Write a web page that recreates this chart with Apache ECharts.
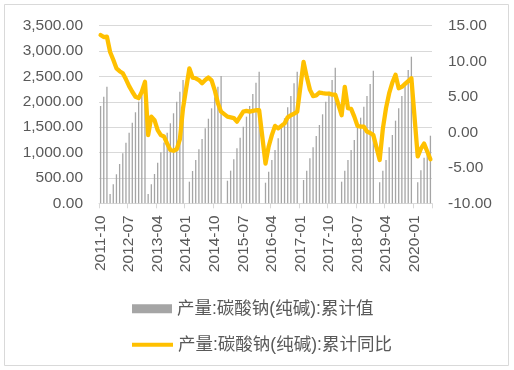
<!DOCTYPE html>
<html>
<head>
<meta charset="utf-8">
<script src="https://cdn.jsdelivr.net/npm/echarts@6/dist/echarts.min.js"></script>
<style>html,body{margin:0;padding:0;background:#fff;}#c{width:514px;height:370px;}</style>
</head>
<body>
<div id="c"></div>
<script>
var categories = [
"2011-10","2011-11","2011-12",
"2012-01","2012-02","2012-03","2012-04","2012-05","2012-06","2012-07","2012-08","2012-09","2012-10","2012-11","2012-12",
"2013-01","2013-02","2013-03","2013-04","2013-05","2013-06","2013-07","2013-08","2013-09","2013-10","2013-11","2013-12",
"2014-01","2014-02","2014-03","2014-04","2014-05","2014-06","2014-07","2014-08","2014-09","2014-10","2014-11","2014-12",
"2015-01","2015-02","2015-03","2015-04","2015-05","2015-06","2015-07","2015-08","2015-09","2015-10","2015-11","2015-12",
"2016-01","2016-02","2016-03","2016-04","2016-05","2016-06","2016-07","2016-08","2016-09","2016-10","2016-11","2016-12",
"2017-01","2017-02","2017-03","2017-04","2017-05","2017-06","2017-07","2017-08","2017-09","2017-10","2017-11","2017-12",
"2018-01","2018-02","2018-03","2018-04","2018-05","2018-06","2018-07","2018-08","2018-09","2018-10","2018-11","2018-12",
"2019-01","2019-02","2019-03","2019-04","2019-05","2019-06","2019-07","2019-08","2019-09","2019-10","2019-11","2019-12",
"2020-01","2020-02","2020-03","2020-04","2020-05","2020-06"
];
var cumulativeValue = [
1918,2101,2298,
183,374,572,775,986,1194,1392,1589,1794,2003,2168,2330,
183,374,577,800,1005,1200,1390,1577,1774,2003,2200,2430,
null,426,637,853,1064,1267,1478,1667,1872,2089,2298,2509,
null,445,643,867,1084,1293,1510,1707,1918,2154,2377,2594,
null,406,623,853,1051,1281,1498,1675,1892,2115,2365,2594,
null,459,643,887,1104,1326,1543,1754,2003,2200,2430,2673,
null,426,643,853,1051,1247,1498,1687,1904,2115,2351,2614,
null,414,643,853,1104,1346,1628,1872,2115,2365,2627,2889,
null,414,650,899,1096,1332
];
var cumulativeYoY = [
13.7,13.4,13.45,
11.3,10.2,9.0,8.6,8.3,7.45,6.5,5.7,5.0,4.8,5.7,7.1,
-0.4,2.2,1.7,0.3,-0.4,-0.6,-1.6,-2.5,-2.6,-2.4,-1.0,3.4,
null,9.0,7.7,7.6,7.35,6.9,7.35,7.7,7.3,5.9,4.1,2.9,
null,2.2,2.1,2.0,1.5,2.2,2.9,3.0,2.9,3.0,3.1,3.1,
null,-4.4,-2.0,-0.4,0.9,0.55,0.9,1.25,2.1,2.4,2.6,2.9,
null,9.9,7.8,6.0,5.1,5.2,5.6,5.5,5.45,5.45,5.3,5.3,
null,2.4,6.4,3.4,3.3,2.2,0.9,0.8,0.8,0.1,-0.1,-0.4,
null,-3.9,0.5,3.4,5.5,7.0,8.1,6.2,6.4,6.8,7.2,7.6,
null,-3.4,-2.3,-1.6,-2.7,-3.8
];
var barName = "产量:碳酸钠(纯碱):累计值";
var lineName = "产量:碳酸钠(纯碱):累计同比";

var FONT = "'Liberation Sans','Noto Sans CJK SC',sans-serif";
var TXT = "#595959";
function fmt(v){
  var s = Math.abs(v).toFixed(2).split(".");
  s[0] = s[0].replace(/\B(?=(\d{3})+(?!\d))/g, ",");
  return (v < 0 ? "-" : "") + s.join(".");
}
var chart = echarts.init(document.getElementById("c"), null, {renderer: "canvas"});
chart.setOption({
  animation: false,
  backgroundColor: "#ffffff",
  graphic: [{
    type: "rect", shape: {x: 4.5, y: 4.5, width: 504, height: 361},
    style: {fill: "none", stroke: "#D9D9D9", lineWidth: 1}, silent: true
  }],
  grid: {left: 99, right: 82, top: 25.7, bottom: 166.7, containLabel: false},
  legend: [{
    data: [{name: barName, icon: "rect"}],
    left: 127, top: 295, itemWidth: 40, itemHeight: 9,
    textStyle: {fontFamily: FONT, fontSize: 17.5, color: TXT}
  }, {
    data: [{name: lineName, icon: "rect"}],
    left: 127, top: 331, itemWidth: 41, itemHeight: 4,
    textStyle: {fontFamily: FONT, fontSize: 17.5, color: TXT}
  }],
  xAxis: {
    type: "category", data: categories, boundaryGap: true,
    axisLine: {lineStyle: {color: "#D9D9D9", width: 1}},
    axisTick: {show: true, interval: 8, length: 5, lineStyle: {color: "#D9D9D9"}},
    axisLabel: {interval: 8, rotate: 90, margin: 12, fontFamily: FONT, fontSize: 15.5, color: TXT}
  },
  yAxis: [{
    type: "value", min: 0, max: 3500, interval: 500, position: "left",
    axisLine: {show: false}, axisTick: {show: false},
    splitLine: {lineStyle: {color: "#D9D9D9", width: 1}},
    axisLabel: {margin: 16, fontFamily: FONT, fontSize: 15.5, color: TXT, formatter: fmt}
  }, {
    type: "value", min: -10, max: 15, interval: 5, position: "right",
    axisLine: {show: false}, axisTick: {show: false}, splitLine: {show: false},
    axisLabel: {margin: 16, fontFamily: FONT, fontSize: 15.5, color: TXT, formatter: fmt}
  }],
  series: [{
    name: barName, type: "bar", yAxisIndex: 0, data: cumulativeValue,
    barWidth: 1.3, itemStyle: {color: "#A5A5A5"}, z: 2
  }, {
    name: lineName, type: "line", yAxisIndex: 1, data: cumulativeYoY,
    connectNulls: true, showSymbol: false, symbol: "none", smooth: false,
    lineStyle: {color: "#FFC000", width: 4.3, join: "round", cap: "round"},
    itemStyle: {color: "#FFC000"}, z: 3
  }]
});
</script>
</body>
</html>
